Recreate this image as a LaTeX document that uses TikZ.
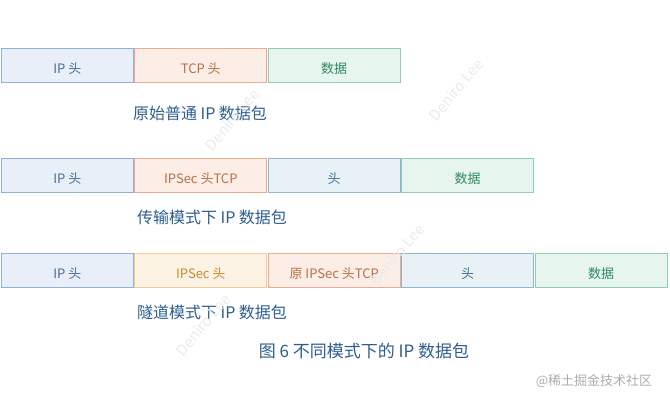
\documentclass[tikz,border=0pt]{standalone}
\usepackage{fontspec}
\setmainfont{Noto Sans CJK SC}
\usetikzlibrary{positioning}
\definecolor{ipfill}{HTML}{E8EFF8}
\definecolor{ipdraw}{HTML}{8FB0D6}
\definecolor{iptext}{HTML}{4A6F96}
\definecolor{tcpfill}{HTML}{FCEDE7}
\definecolor{tcpdraw}{HTML}{EBAA90}
\definecolor{tcptext}{HTML}{B5714A}
\definecolor{datafill}{HTML}{E7F5EF}
\definecolor{datadraw}{HTML}{93CCB0}
\definecolor{datatext}{HTML}{2F8A5E}
\definecolor{secfill}{HTML}{FDF3E4}
\definecolor{secdraw}{HTML}{F4CB95}
\definecolor{sectext}{HTML}{C98A2E}
\definecolor{hdrfill}{HTML}{E8F1F6}
\definecolor{hdrdraw}{HTML}{8DB8CE}
\definecolor{hdrtext}{HTML}{3E7694}
\definecolor{captext}{HTML}{2D5E8C}
\tikzset{
  pkt/.style={rectangle, line width=0.8pt, minimum width=132pt,
              minimum height=34pt, inner sep=0pt, text height=17pt, text depth=0pt,
              font=\fontsize{13}{15}\selectfont},
  ipbox/.style={pkt, draw=ipdraw, fill=ipfill, text=iptext},
  tcpbox/.style={pkt, draw=tcpdraw, fill=tcpfill, text=tcptext},
  databox/.style={pkt, draw=datadraw, fill=datafill, text=datatext},
  secbox/.style={pkt, draw=secdraw, fill=secfill, text=sectext},
  hdrbox/.style={pkt, draw=hdrdraw, fill=hdrfill, text=hdrtext},
  caption/.style={font=\fontsize{16}{19}\selectfont, text=captext},
  wmark/.style={font=\fontsize{15}{17}\selectfont, text=black!8, rotate=50},
}

\begin{document}
\begin{tikzpicture}[x=1pt, y=-1pt, node distance=0.6pt]
  \useasboundingbox (0,0) rectangle (670,402);

  % original packet
  \node[ipbox, anchor=west] (ipa) at (1,65) {IP 头};
  \node[tcpbox, right=of ipa] (tcpa) {TCP 头};
  \node[databox, right=of tcpa] (dataa) {数据};
  \node[caption] (capa) at (200,113) {原始普通 IP 数据包};

  % transport mode
  \node[ipbox, anchor=west] (ipb) at (1,175) {IP 头};
  \node[tcpbox, right=of ipb] (secb) {IPSec 头TCP};
  \node[hdrbox, right=of secb] (hdrb) {头};
  \node[databox, right=of hdrb] (datab) {数据};
  \node[caption] (capb) at (212,217) {传输模式下 IP 数据包};

  % tunnel mode
  \node[ipbox, anchor=west] (ipc) at (1,270) {IP 头};
  \node[secbox, right=of ipc] (secc) {IPSec 头};
  \node[tcpbox, right=of secc] (tcpc) {原 IPSec 头TCP};
  \node[hdrbox, right=of tcpc] (hdrc) {头};
  \node[databox, right=of hdrc] (datac) {数据};
  \node[caption] (capc) at (212,312) {隧道模式下 IP 数据包};

  \node[caption, font=\fontsize{17}{20}\selectfont] (title) at (364,351) {图 6 不同模式下的 IP 数据包};

  % watermarks
  \node[wmark] (wma) at (456,90) {Deniro Lee};
  \node[wmark] (wmb) at (232,120) {Deniro Lee};
  \node[wmark] (wmc) at (397,255) {Deniro Lee};
  \node[wmark] (wmd) at (203,325) {Deniro Lee};
  \node[font=\fontsize{13}{15}\selectfont, text=black!32] (site) at (594,381) {@稀土掘金技术社区};
\end{tikzpicture}
\end{document}
